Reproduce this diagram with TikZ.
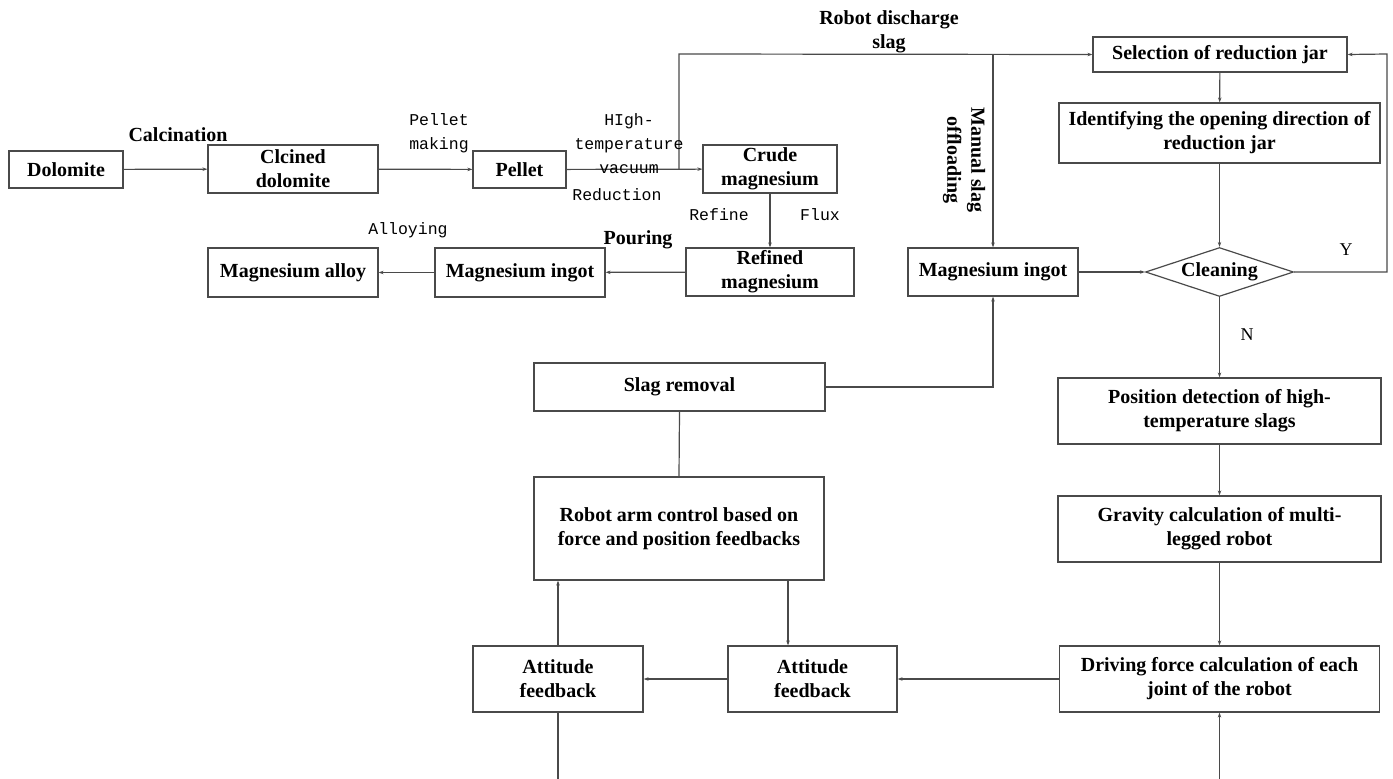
\documentclass[tikz,border=0pt]{standalone}
\usepackage{fontspec}
\setmainfont{Liberation Serif}
\newfontfamily\monofam{Liberation Mono}
\usetikzlibrary{arrows.meta,shapes.geometric}
\definecolor{ln}{HTML}{4a4a4a}
\tikzset{
  x=1pt,y=-1pt,
  box/.style={draw=ln,line width=1.2pt,rectangle,inner sep=0pt,align=center,
    font=\fontsize{20}{24}\selectfont\bfseries,text=black},
  dia/.style={draw=ln,line width=1.2pt,diamond,inner sep=0pt,aspect=3,align=center,
    font=\fontsize{20}{24}\selectfont\bfseries},
  conn/.style={draw=ln,line width=1.2pt},
  arr/.style={conn,-{Stealth[length=5pt,width=3.5pt]}},
  blab/.style={align=center,font=\fontsize{20}{24}\selectfont\bfseries,inner sep=0pt},
  mlab/.style={align=center,font=\fontsize{16.5}{24}\selectfont\monofam,inner sep=0pt},
  rlab/.style={align=center,font=\fontsize{18}{22}\selectfont,inner sep=0pt}
}
\begin{document}
\begin{tikzpicture}
\useasboundingbox (0,0) rectangle (1393,779);
% nodes
\node[box,minimum width=114,minimum height=37] (dolo) at (66,169.5) {Dolomite};
\node[box,minimum width=170,minimum height=48] (cdolo) at (293,169) {Clcined\\dolomite};
\node[box,minimum width=93,minimum height=37] (pellet) at (519.5,169.5) {Pellet};
\node[box,minimum width=134,minimum height=48] (crude) at (770,169) {Crude\\magnesium};
\node[box,minimum width=168,minimum height=48] (refined) at (770,272) {Refined\\magnesium};
\node[box,minimum width=170,minimum height=49] (ingotL) at (520,272.5) {Magnesium ingot};
\node[box,minimum width=170,minimum height=49] (alloy) at (293,272.5) {Magnesium alloy};
\node[box,minimum width=254,minimum height=35] (select) at (1220,54.5) {Selection of reduction jar};
\node[box,minimum width=321,minimum height=60] (ident) at (1219.5,133) {Identifying the opening direction of\\reduction jar};
\node[dia,minimum width=148,minimum height=49] (clean) at (1219.5,272) {Cleaning};
\node[box,minimum width=170,minimum height=48] (ingotR) at (993,272) {Magnesium ingot};
\node[box,minimum width=291,minimum height=48] (slag) at (679.5,387) {Slag removal};
\node[box,minimum width=290,minimum height=103] (robot) at (679,528.5) {Robot arm control based on\\force and position feedbacks};
\node[box,minimum width=170,minimum height=66] (att1) at (558,679) {Attitude\\feedback};
\node[box,minimum width=169,minimum height=66] (att2) at (812.5,679) {Attitude\\feedback};
\node[box,minimum width=323,minimum height=66] (pos) at (1219.5,411) {Position detection of high-\\temperature slags};
\node[box,minimum width=323,minimum height=66] (grav) at (1219.5,529) {Gravity calculation of multi-\\legged robot};
\node[box,minimum width=320,minimum height=66] (drive) at (1219.5,679) {Driving force calculation of each\\joint of the robot};
% coordinates
\coordinate (j1) at (679,169);
\coordinate (j1t) at (679,54);
\coordinate (j2) at (993,54);
\coordinate (yr) at (1387,272);
\coordinate (yt) at (1387,54);
\coordinate (sr) at (993,387);
\coordinate (b1) at (558,779);
\coordinate (b2) at (1219.5,779);
% connectors
\draw[arr] (dolo) -- (cdolo);
\draw[arr] (cdolo) -- (pellet);
\draw[arr] (pellet) -- (crude);
\draw[arr] (j1) -- (j1t) -- (select.west);
\draw[arr] (j2) -- (ingotR.north);
\draw[arr] (crude) -- (refined);
\draw[arr] (refined) -- (ingotL);
\draw[arr] (ingotL) -- (alloy);
\draw[arr] (select) -- (ident);
\draw[arr] (ident) -- (clean);
\draw[arr] (clean.east) -- (yr) -- (yt) -- (select.east);
\draw[arr] (ingotR) -- (clean);
\draw[arr] (clean) -- (pos);
\draw[arr] (pos) -- (grav);
\draw[arr] (grav) -- (drive);
\draw[arr] (drive) -- (att2);
\draw[arr] (att2) -- (att1);
\draw[arr] (att1.north) -- (robot.south -| att1.north);
\draw[arr] (robot.south -| 788,0) -- (att2.north -| 788,0);
\draw[conn] (slag.south) -- (robot.north);
\draw[arr] (slag.east) -- (sr) -- (ingotR.south);
\draw[conn] (att1.south) -- (b1);
\draw[arr] (b2) -- (drive.south);
% labels
\node[blab] (lcal) at (178,135) {Calcination};
\node[mlab] (lpm) at (439,133) {Pellet\\making};
\node[mlab] (lhv) at (629,144) {HIgh-\\temperature\\vacuum};
\node[mlab] (lred) at (617,195) {Reduction};
\node[blab] (lrds) at (889,32) {Robot discharge\\slag};
\node[blab,rotate=-90] (lman) at (964,160) {Manual slag\\offloading};
\node[mlab] (lref) at (719,215) {Refine};
\node[mlab] (lflux) at (820,215) {Flux};
\node[blab] (lpour) at (638,240) {Pouring};
\node[mlab] (lall) at (408,230) {Alloying};
\node[rlab] (ly) at (1346,250) {Y};
\node[rlab] (ln) at (1247,335) {N};
\end{tikzpicture}
\end{document}
